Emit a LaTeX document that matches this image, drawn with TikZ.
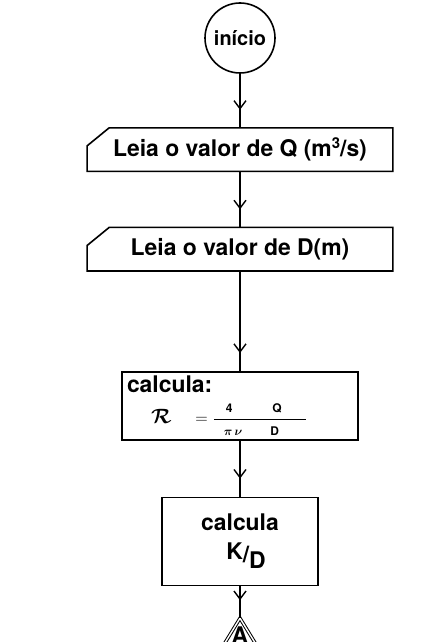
\documentclass[tikz,border=0pt]{standalone}
\usepackage{amsmath}
\usepackage{fontspec}
\setmainfont{TeX Gyre Heros}
\usetikzlibrary{positioning, arrows.meta, decorations.markings, shapes.geometric}

\begin{document}
\begin{tikzpicture}[x=1bp, y=1bp, line width=1.6bp,
    every node/.style={font=\fontsize{23}{27}\selectfont\bfseries},
    procbox/.style={draw, line width=1.6bp, inner sep=4bp},
    flowline/.style={line width=1.6bp, postaction={decorate},
      decoration={markings, mark=at position -18bp with {\arrow{Straight Barb[length=8bp, width=12bp, line width=1.4bp]}}}}]
    \useasboundingbox (0,0) rectangle (432,-642);

    % Nodes
    \node (start) [circle, draw, minimum size=70bp, inner sep=0pt, font=\fontsize{20}{24}\selectfont\bfseries] at (240,-38) {início};
    \node (q) [below=54bp of start, minimum width=304bp, minimum height=42bp]
      {Leia o valor de Q (m\raisebox{8bp}{\fontsize{15}{17}\selectfont 3}/s)};
    \node (d) [below=56bp of q, minimum width=304bp, minimum height=42bp] {Leia o valor de D(m)};
    \node (calc) [below=100bp of d, procbox, minimum width=236bp, minimum height=68bp, text width=226bp, align=left]
      {calcula:\\[4bp]
       \hspace*{24bp}{\fontsize{22}{24}\selectfont$\boldsymbol{\mathcal{R}}$}\hspace{24bp}{\fontsize{18}{20}\selectfont$=\dfrac{\makebox[92bp][l]{\fontsize{12}{13}\selectfont\hspace{12bp}4\hspace{40bp}Q}}{\makebox[92bp][l]{\fontsize{12}{13}\selectfont\hspace{10bp}$\boldsymbol{\pi\,\nu}$\hspace{28bp}D}}$}};
    \node (kd) [below=56bp of calc, procbox, minimum width=156bp, minimum height=88bp, align=center]
      {calcula\\[2bp] \hspace*{12bp}K\raisebox{-3bp}{/}\raisebox{-9bp}{D}};
    \node (conn) [below=40bp of kd, inner sep=0pt] {A};
    \coordinate (apex) at ([yshift=8bp]conn.north);

    % Card outlines
    \draw ([xshift=22bp]q.north west) -- (q.north east) -- (q.south east) -- (q.south west) -- ([yshift=-18bp]q.north west) -- cycle;
    \draw ([xshift=22bp]d.north west) -- (d.north east) -- (d.south east) -- (d.south west) -- ([yshift=-18bp]d.north west) -- cycle;
    % Connector triangle
    \draw[double, double distance=1.4bp, line width=1bp] ([shift={(-22,-36)}]apex) -- (apex) -- ([shift={(22,-36)}]apex);

    % Arrows
    \draw[flowline] (start) -- (q);
    \draw[flowline] (q) -- (d);
    \draw[flowline] (d) -- (calc);
    \draw[flowline] (calc) -- (kd);
    \draw[flowline] (kd) -- (apex);
\end{tikzpicture}
\end{document}
